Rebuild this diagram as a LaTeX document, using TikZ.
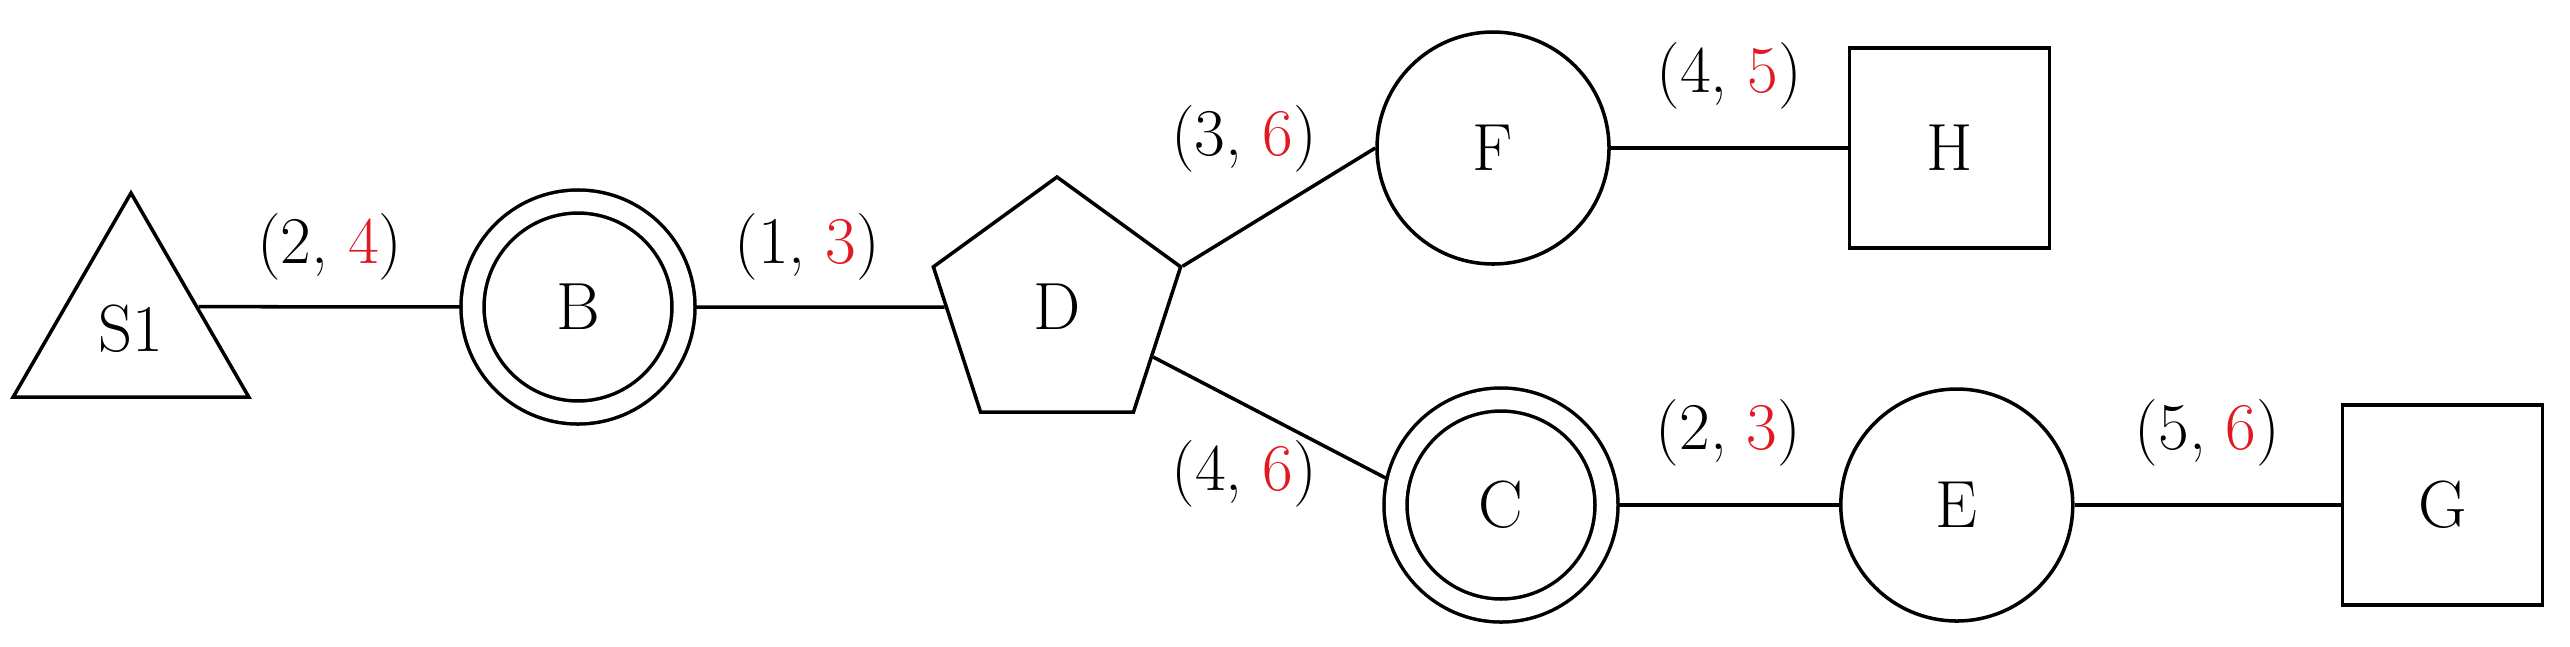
\documentclass[tikz,border=0pt]{standalone}
\usepackage{tikz}
\usetikzlibrary{positioning}
\usetikzlibrary{shapes.geometric}
\usetikzlibrary{calc}
\definecolor{costred}{RGB}{225,25,35}
\newcommand{\rnum}[1]{\textcolor{costred}{#1}}

\begin{document}
\begin{tikzpicture}[font=\fontsize{19}{23}\selectfont]

\tikzstyle{source}=[draw, line width=1pt, regular polygon, regular polygon sides=3, minimum size=2.72cm, inner sep=0]
\tikzstyle{hub}=[draw, line width=1pt, regular polygon, regular polygon sides=5, minimum size=2.6cm, inner sep=0]
\tikzstyle{state}=[draw, line width=1pt, circle, minimum size=2.32cm]
\tikzstyle{junction}=[draw, line width=1pt, circle, double, double distance=1.95mm, minimum size=2.11cm, outer sep=1.15mm]
\tikzstyle{sink}=[draw, line width=1pt, rectangle, minimum size=2cm]
\tikzstyle{line}=[draw, line width=1pt]
\tikzstyle{cost}=[inner sep=0]

\useasboundingbox (0,0) rectangle (25.7,-6.46);

\node[source] (S1) at (1.31,-3.29) {S1};
\node[junction] (B) at (5.78,-3.07) {B};
\node[hub] (D) at (10.57,-3.07) {D};
\node[state] (F) at (14.93,-1.48) {F};
\node[sink, right=2.37cm of F] (H) {H};
\node[junction] (C) at (15.01,-5.05) {C};
\node[state, right=2.21cm of C] (E) {E};
\node[sink, right=2.66cm of E] (G) {G};

\coordinate (s1_b) at ($(S1.corner 1)!.56!(S1.corner 3)$);

\path[line] (s1_b) -- (B) node[cost, midway, above=.25cm] (cost_s1_b) {(2, \rnum{4})};
\path[line] (B) -- (D) node[cost, pos=.45, above=.25cm] (cost_b_d) {(1, \rnum{3})};
\path[line] (D.corner 5) -- (F.west) node[cost, midway, xshift=-.35cm, yshift=.685cm] (cost_d_f) {(3, \rnum{6})};
\path[line] (D) -- (C.167) node[cost, midway, xshift=-.26cm, yshift=-.56cm] (cost_d_c) {(4, \rnum{6})};
\path[line] (F) -- (H) node[cost, midway, above=.37cm] (cost_f_h) {(4, \rnum{5})};
\path[line] (C) -- (E) node[cost, midway, above=.37cm] (cost_c_e) {(2, \rnum{3})};
\path[line] (E) -- (G) node[cost, midway, above=.37cm] (cost_e_g) {(5, \rnum{6})};

\end{tikzpicture}
\end{document}
